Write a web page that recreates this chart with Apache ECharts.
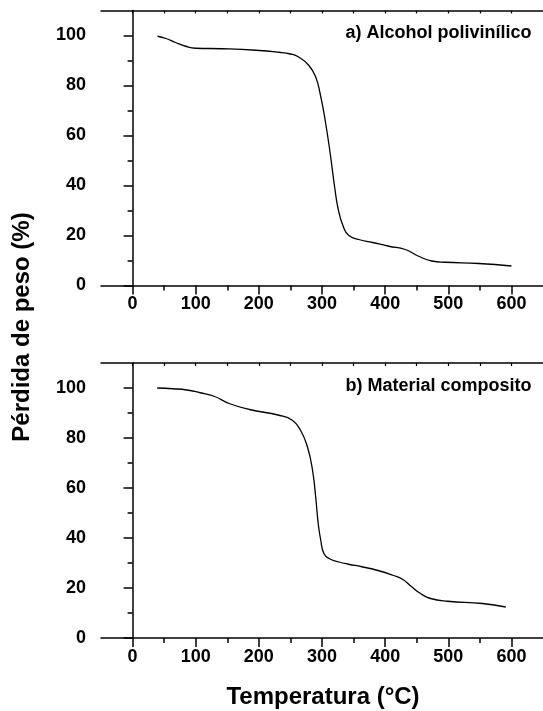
<!DOCTYPE html>
<html>
<head>
<meta charset="utf-8">
<script src="https://cdn.jsdelivr.net/npm/echarts@6/dist/echarts.min.js"></script>
<style>html,body{margin:0;padding:0;background:#fff;}#c{width:543px;height:711px;}</style>
</head>
<body>
<div id="c"></div>
<script>
// ---- data ----
const tempA = [39.5, 53, 68, 84, 100, 142, 195, 232, 250, 263, 279, 290, 297, 305, 313, 320, 326, 334, 342, 358, 380, 406, 432, 453, 474, 495, 548, 600];
const weightA = [99.7, 98.8, 97.2, 95.7, 94.9, 94.7, 94.1, 93.3, 92.6, 91.4, 88.1, 83.4, 76.8, 66.1, 52.8, 39.4, 30.1, 23.4, 20.1, 18.4, 17.2, 15.7, 14.4, 11.7, 9.8, 9.3, 8.8, 7.8];
const tempB = [39, 64, 86, 107, 129, 153, 185, 232, 253, 266, 277, 285, 290, 294, 298, 303, 311, 327, 342, 363, 390, 412, 428, 442, 456, 472, 499, 554, 591];
const weightB = [100, 99.7, 99.2, 98.1, 96.7, 93.8, 91.4, 89.1, 87.1, 83.1, 76.4, 67.1, 56.4, 45.8, 39.1, 33.8, 31.8, 30.4, 29.5, 28.5, 26.9, 25.1, 23.4, 20.5, 17.8, 15.8, 14.7, 13.8, 12.4];
const xMajorTicks = [0, 100, 200, 300, 400, 500, 600];
const xMinorTicks = [50, 150, 250, 350, 450, 550];
const xTopTicks = [0, 50, 100, 150, 200, 250, 300, 350, 400, 450, 500, 550, 600];
const yMajorTicks = [0, 20, 40, 60, 80, 100];
const yMinorTicks = [10, 30, 50, 70, 90];
const panelLabels = ['a) Alcohol polivinílico', 'b) Material composito'];
const xTitle = 'Temperatura (°C)';
const yTitle = 'Pérdida de peso (%)';

// ---- chart ----
const FONT = '"Liberation Sans", Arial, sans-serif';
const chart = echarts.init(document.getElementById('c'), null, {renderer: 'canvas'});
const panelTops = [10.5, 363];
const gridL = 101, gridW = 443.5, gridH = 275;
const grids = [], xAxes = [], yAxes = [], series = [];
const lineAx = {lineStyle: {color: '#000', width: 1.5}};
panelTops.forEach((top, p) => {
  const gMain = grids.length;
  grids.push({left: gridL, top: top, width: gridW, height: gridH});
  grids.push({left: gridL, top: top, width: gridW, height: gridH});
  const gOver = gMain + 1;
  xAxes.push({gridIndex: gMain, type: 'value', min: -50, max: 650, position: 'bottom',
    axisLine: lineAx, splitLine: {show: false},
    axisTick: {show: true, inside: false, length: 9, customValues: xMajorTicks, lineStyle: {color: '#000', width: 1.5}},
    axisLabel: {customValues: xMajorTicks, margin: 10, color: '#000', fontSize: 18, fontWeight: 'bold', fontFamily: FONT}});
  xAxes.push({gridIndex: gMain, type: 'value', min: -50, max: 650, position: 'top',
    axisLine: lineAx, splitLine: {show: false},
    axisTick: {show: true, inside: true, length: 3, customValues: xTopTicks, lineStyle: {color: '#000', width: 1.2}},
    axisLabel: {show: false}});
  xAxes.push({gridIndex: gOver, type: 'value', min: -50, max: 650, position: 'bottom',
    axisLine: {show: false}, splitLine: {show: false},
    axisTick: {show: true, inside: false, length: 5, customValues: xMinorTicks, lineStyle: {color: '#000', width: 1.5}},
    axisLabel: {show: false}});
  yAxes.push({gridIndex: gMain, type: 'value', min: 0, max: 110, position: 'left',
    axisLine: {show: true, lineStyle: {color: '#000', width: 1.5}}, splitLine: {show: false},
    axisTick: {show: true, inside: false, length: 9, customValues: yMajorTicks, lineStyle: {color: '#000', width: 1.5}},
    axisLabel: {customValues: yMajorTicks, margin: 15, color: '#000', fontSize: 18, fontWeight: 'bold', fontFamily: FONT}});
  yAxes.push({gridIndex: gOver, type: 'value', min: 0, max: 110, position: 'left',
    axisLine: {show: false}, splitLine: {show: false},
    axisTick: {show: true, inside: false, length: 5, customValues: yMinorTicks, lineStyle: {color: '#000', width: 1.5}},
    axisLabel: {show: false}});
});
const dataA = tempA.map((t, i) => [t, weightA[i]]);
const dataB = tempB.map((t, i) => [t, weightB[i]]);
[dataA, dataB].forEach((d, p) => {
  series.push({type: 'line', xAxisIndex: p * 3, yAxisIndex: p * 2, data: d,
    showSymbol: false, smooth: 0.5,
    lineStyle: {color: '#000', width: 1.3}, animation: false, silent: true});
});

chart.setOption({
  animation: false,
  backgroundColor: '#fff',
  grid: grids,
  xAxis: xAxes,
  yAxis: yAxes,
  series: series,
  graphic: [
    {type: 'text', right: 11.5, top: 24, style: {text: panelLabels[0], fill: '#000', font: 'bold 18px ' + FONT}},
    {type: 'text', right: 11.5, top: 377, style: {text: panelLabels[1], fill: '#000', font: 'bold 18px ' + FONT}},
    {type: 'text', x: 323, y: 697, style: {text: xTitle, fill: '#000', font: 'bold 24px ' + FONT, textAlign: 'center', textVerticalAlign: 'middle'}},
    {type: 'text', x: 22, y: 327, rotation: Math.PI / 2, style: {text: yTitle, fill: '#000', font: 'bold 24px ' + FONT, textAlign: 'center', textVerticalAlign: 'middle'}}
  ]
});
</script>
</body>
</html>
